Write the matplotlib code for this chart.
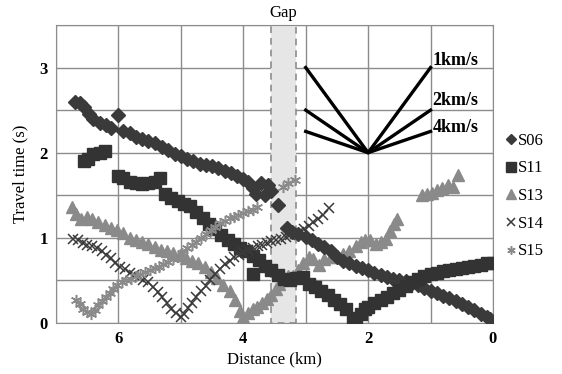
import matplotlib.pyplot as plt
from matplotlib.patches import Rectangle
from matplotlib.ticker import MultipleLocator

plt.rcParams['font.family'] = ['Liberation Serif', 'DejaVu Serif']

# travel time picks per station (distance km, time s)
s06_x = [6.70, 6.62, 6.55, 6.47, 6.40, 6.30, 6.20, 6.12, 6.01, 5.92, 5.82, 5.72, 5.62,
         5.52, 5.42, 5.30, 5.20, 5.10, 5.00, 4.90, 4.80, 4.70, 4.60, 4.50, 4.40, 4.30,
         4.20, 4.10, 4.00, 3.92, 3.85, 3.80, 3.72, 3.65, 3.60, 3.55, 3.45, 3.30, 3.22,
         3.12, 3.00, 2.90, 2.80, 2.70, 2.60, 2.50, 2.40, 2.30, 2.20, 2.10, 2.00, 1.90,
         1.80, 1.70, 1.60, 1.50, 1.40, 1.30, 1.20, 1.10, 1.00, 0.90, 0.80, 0.70, 0.60,
         0.50, 0.40, 0.30, 0.20, 0.10, 0.05]
s06_t = [2.60, 2.58, 2.54, 2.45, 2.40, 2.35, 2.32, 2.29, 2.44, 2.26, 2.23, 2.19, 2.16,
         2.14, 2.11, 2.07, 2.03, 1.99, 1.96, 1.93, 1.90, 1.87, 1.86, 1.84, 1.82, 1.79,
         1.76, 1.73, 1.69, 1.66, 1.58, 1.52, 1.64, 1.50, 1.62, 1.55, 1.38, 1.12, 1.07,
         1.05, 1.01, 0.97, 0.93, 0.89, 0.84, 0.78, 0.73, 0.70, 0.67, 0.64, 0.62, 0.59,
         0.56, 0.54, 0.52, 0.51, 0.49, 0.47, 0.45, 0.41, 0.38, 0.35, 0.32, 0.29, 0.26,
         0.22, 0.19, 0.15, 0.11, 0.07, 0.05]

s11_x = [6.55, 6.48, 6.40, 6.30, 6.22, 6.00, 5.92, 5.82, 5.72, 5.62, 5.52, 5.42, 5.33,
         5.25, 5.15, 5.05, 4.95, 4.85, 4.75, 4.65, 4.55, 4.45, 4.35, 4.25, 4.15, 4.05,
         3.95, 3.85, 3.85, 3.75, 3.65, 3.55, 3.45, 3.35, 3.25, 3.15, 3.05, 2.95, 2.85,
         2.75, 2.65, 2.55, 2.45, 2.35, 2.25, 2.20, 2.12, 2.05, 2.00, 1.90, 1.80, 1.70,
         1.60, 1.50, 1.40, 1.30, 1.20, 1.10, 1.00, 0.90, 0.80, 0.70, 0.60, 0.50, 0.40,
         0.30, 0.20, 0.10, 0.00]
s11_t = [1.90, 1.93, 1.98, 2.00, 2.02, 1.73, 1.70, 1.66, 1.64, 1.63, 1.64, 1.66, 1.70,
         1.52, 1.47, 1.43, 1.40, 1.37, 1.30, 1.23, 1.16, 1.10, 1.03, 0.98, 0.93, 0.88,
         0.84, 0.79, 0.57, 0.74, 0.67, 0.62, 0.56, 0.52, 0.50, 0.53, 0.54, 0.46, 0.42,
         0.37, 0.33, 0.27, 0.22, 0.16, 0.06, 0.02, 0.10, 0.16, 0.19, 0.23, 0.27, 0.31,
         0.35, 0.39, 0.43, 0.48, 0.52, 0.55, 0.58, 0.59, 0.61, 0.62, 0.63, 0.65, 0.66,
         0.67, 0.68, 0.70, 0.71]

s13_x = [6.75, 6.68, 6.60, 6.50, 6.42, 6.32, 6.22, 6.12, 6.02, 5.92, 5.82, 5.72, 5.62,
         5.52, 5.42, 5.32, 5.22, 5.12, 5.02, 4.92, 4.82, 4.72, 4.62, 4.52, 4.42, 4.32,
         4.22, 4.14, 4.06, 4.00, 3.92, 3.85, 3.78, 3.70, 3.62, 3.55, 3.48, 3.42, 3.35,
         3.28, 3.20, 3.12, 3.05, 2.95, 2.88, 2.78, 2.70, 2.60, 2.50, 2.40, 2.30, 2.20,
         2.12, 2.05, 1.97, 1.88, 1.80, 1.72, 1.65, 1.58, 1.54, 1.14, 1.06, 0.98, 0.90,
         0.82, 0.72, 0.64, 0.56]
s13_t = [1.36, 1.28, 1.22, 1.25, 1.22, 1.19, 1.15, 1.12, 1.09, 1.06, 1.00, 0.97, 0.95,
         0.93, 0.89, 0.86, 0.84, 0.82, 0.80, 0.76, 0.73, 0.70, 0.66, 0.60, 0.53, 0.45,
         0.37, 0.27, 0.14, 0.07, 0.12, 0.16, 0.19, 0.23, 0.28, 0.33, 0.40, 0.46, 0.52,
         0.55, 0.55, 0.62, 0.70, 0.78, 0.75, 0.68, 0.75, 0.78, 0.78, 0.81, 0.85, 0.90,
         0.95, 0.97, 0.97, 0.93, 0.95, 0.99, 1.08, 1.16, 1.22, 1.50, 1.52, 1.53, 1.56,
         1.58, 1.62, 1.60, 1.74]

s14_x = [6.72, 6.65, 6.57, 6.50, 6.42, 6.35, 6.27, 6.20, 6.12, 6.05, 5.97, 5.90, 5.82,
         5.75, 5.67, 5.60, 5.52, 5.45, 5.37, 5.30, 5.22, 5.15, 5.07, 5.00, 4.95, 4.88,
         4.82, 4.75, 4.68, 4.60, 4.53, 4.45, 4.38, 4.30, 4.22, 4.15, 4.07, 4.00, 3.92,
         3.85, 3.77, 3.70, 3.62, 3.55, 3.47, 3.40, 3.32, 3.25, 3.17, 3.10, 3.02, 2.95,
         2.88, 2.80, 2.72, 2.63]
s14_t = [0.99, 0.97, 0.94, 0.92, 0.90, 0.88, 0.85, 0.80, 0.76, 0.70, 0.66, 0.63, 0.59,
         0.56, 0.54, 0.51, 0.48, 0.42, 0.36, 0.30, 0.24, 0.17, 0.12, 0.07, 0.10, 0.18,
         0.24, 0.30, 0.37, 0.44, 0.51, 0.58, 0.63, 0.69, 0.73, 0.77, 0.80, 0.83, 0.86,
         0.88, 0.90, 0.92, 0.94, 0.96, 0.97, 0.99, 1.01, 1.03, 1.05, 1.07, 1.10, 1.14,
         1.19, 1.22, 1.27, 1.35]

s15_x = [6.68, 6.62, 6.56, 6.50, 6.44, 6.38, 6.32, 6.26, 6.20, 6.14, 6.08, 6.02, 5.95,
         5.88, 5.80, 5.72, 5.65, 5.58, 5.50, 5.42, 5.35, 5.28, 5.20, 5.12, 5.05, 4.98,
         4.90, 4.82, 4.75, 4.68, 4.60, 4.52, 4.45, 4.38, 4.30, 4.22, 4.15, 4.08, 4.00,
         3.92, 3.85, 3.78, 3.37, 3.28, 3.17]
s15_t = [0.27, 0.22, 0.17, 0.13, 0.10, 0.15, 0.21, 0.26, 0.31, 0.35, 0.40, 0.45, 0.48,
         0.50, 0.52, 0.55, 0.58, 0.60, 0.62, 0.64, 0.66, 0.69, 0.72, 0.75, 0.78, 0.82,
         0.88, 0.92, 0.95, 1.00, 1.05, 1.09, 1.13, 1.17, 1.20, 1.23, 1.25, 1.27, 1.29,
         1.31, 1.33, 1.36, 1.60, 1.64, 1.68]

# apparent velocity reference fan
fan_origin = (2.0, 2.0)
fan_labels = ['1km/s', '2km/s', '4km/s']
fan_speeds = [1.0, 2.0, 4.0]
gap_left, gap_right = 3.15, 3.56

fig = plt.figure(figsize=(5.62, 3.74), dpi=100)
ax = fig.add_axes([0.0996, 0.1364, 0.7776, 0.7968])

dark = '#3a3a3a'
light = '#8a8a8a'
ax.plot(s06_x, s06_t, ls='none', marker='D', ms=7, color=dark, label='S06', zorder=4)
ax.plot(s11_x, s11_t, ls='none', marker='s', ms=9, color='#333333', label='S11', zorder=4)
ax.plot(s13_x, s13_t, ls='none', marker='^', ms=9, color=light, label='S13', zorder=3)
ax.plot(s14_x, s14_t, ls='none', marker='x', ms=7, mew=1.1, color=dark, label='S14', zorder=5)
ax.plot(s15_x, s15_t, ls='none', marker=(6, 2, 0), ms=8, mew=1.1, color=light, label='S15', zorder=5)

x0, t0 = fan_origin
for v, lab in zip(fan_speeds, fan_labels):
    dt = 1.0 / v
    ax.plot([x0 + 1, x0, x0 - 1], [t0 + dt, t0, t0 + dt], color='black', lw=2.4, zorder=6)
ax.text(0.97, 3.08, fan_labels[0], fontsize=13, fontweight='bold', va='center', ha='left')
ax.text(0.97, 2.61, fan_labels[1], fontsize=13, fontweight='bold', va='center', ha='left')
ax.text(0.97, 2.30, fan_labels[2], fontsize=13, fontweight='bold', va='center', ha='left')

# survey gap
ax.add_patch(Rectangle((gap_left, 0), gap_right - gap_left, 3.5, facecolor='#e6e6e6',
                       edgecolor='#8c8c8c', ls=(0, (4, 3)), lw=1.2, zorder=1))
ax.text((gap_left + gap_right) / 2, 3.55, 'Gap', ha='center', va='bottom', fontsize=12)

ax.set_xlim(7, 0)
ax.set_ylim(0, 3.5)
ax.xaxis.set_major_locator(MultipleLocator(2))
ax.xaxis.set_minor_locator(MultipleLocator(1))
ax.yaxis.set_major_locator(MultipleLocator(1))
ax.yaxis.set_minor_locator(MultipleLocator(0.5))
ax.grid(which='both', color='#8c8c8c', lw=1, zorder=0)
ax.set_axisbelow(True)
for s in ax.spines.values():
    s.set_color('#8c8c8c')
ax.tick_params(which='both', length=0, labelsize=12, pad=6)
for lbl in ax.get_xticklabels() + ax.get_yticklabels():
    lbl.set_fontweight('bold')
ax.set_xlabel('Distance (km)', fontsize=12, labelpad=3)
ax.set_ylabel('Travel time (s)', fontsize=12, labelpad=8)

fig.legend(loc='center left', bbox_to_anchor=(506 / 562, 1 - 196 / 374), frameon=False,
           fontsize=12, handlelength=0.6, handletextpad=0.1, labelspacing=0.7,
           markerscale=0.75, borderpad=0, borderaxespad=0)

fig.savefig('out.png', dpi=100)
